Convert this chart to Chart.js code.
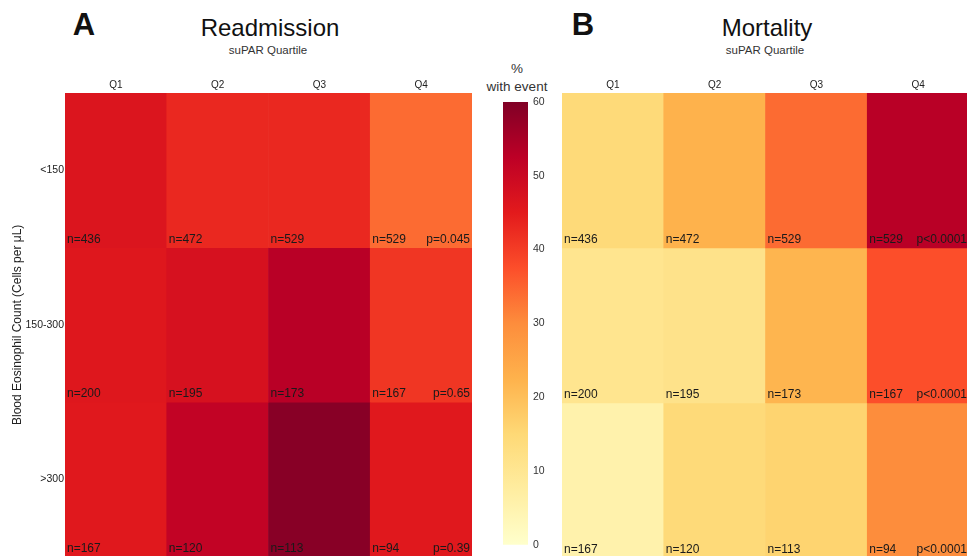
<!DOCTYPE html>
<html>
<head>
<meta charset="utf-8">
<script src="https://cdn.jsdelivr.net/npm/chart.js@4"></script>
<style>
  html, body { margin:0; padding:0; width:967px; height:556px; overflow:hidden; background:#fff; font-family:"Liberation Sans", Arial, sans-serif; }
  canvas { position:absolute; }
  .t { position:absolute; color:#111; white-space:nowrap; transform:translate(-50%,-50%); }
</style>
</head>
<body>
<div class="t" style="left:84px;top:25px;font-size:31px;font-weight:bold;">A</div>
<div class="t" style="left:270px;top:28px;font-size:24px;">Readmission</div>
<div class="t" style="left:268px;top:50px;font-size:11.5px;color:#333;">suPAR Quartile</div>
<div class="t" style="left:583px;top:25px;font-size:31px;font-weight:bold;">B</div>
<div class="t" style="left:767px;top:28px;font-size:24px;">Mortality</div>
<div class="t" style="left:765px;top:50px;font-size:11.5px;color:#333;">suPAR Quartile</div>
<div class="t" style="left:517px;top:68px;font-size:13.5px;color:#333;">%</div>
<div class="t" style="left:517px;top:86px;font-size:13.5px;color:#333;">with event</div>

<canvas id="cA" width="480" height="564" style="left:0;top:0;width:480px;height:564px;"></canvas>
<canvas id="cBar" width="80" height="556" style="left:480px;top:0;width:80px;height:556px;"></canvas>
<canvas id="cB" width="415" height="560" style="left:562px;top:0;width:415px;height:560px;"></canvas>

<script>
// ---- data ----
const quartiles = ["Q1", "Q2", "Q3", "Q4"];
const eosRows = ["<150", "150-300", ">300"];
const readmission = [
  [46.5, 43, 43, 34],
  [46, 47.5, 53, 41],
  [45.5, 51.5, 59, 45.5]
];
const mortality = [
  [14.5, 22.5, 34, 53],
  [10.5, 11.5, 22, 37.5],
  [5.5, 14.5, 16, 30]
];
const counts = [
  [436, 472, 529, 529],
  [200, 195, 173, 167],
  [167, 120, 113, 94]
];
const pReadmission = ["p=0.045", "p=0.65", "p=0.39"];
const pMortality = ["p<0.0001", "p<0.0001", "p<0.0001"];
const colorbarRange = [0, 60];

// ---- colour scale (YlOrRd) ----
const stops = [[255,255,204],[255,237,160],[254,217,118],[254,178,76],[253,141,60],[252,78,42],[227,26,28],[189,0,38],[128,0,38]];
function colorFor(v) {
  let t = (v - colorbarRange[0]) / (colorbarRange[1] - colorbarRange[0]);
  t = Math.max(0, Math.min(1, t)) * (stops.length - 1);
  const i = Math.min(Math.floor(t), stops.length - 2), f = t - i;
  const a = stops[i], b = stops[i + 1];
  const c = a.map((x, k) => Math.round(x + (b[k] - x) * f));
  return `rgb(${c[0]},${c[1]},${c[2]})`;
}

const FONT = "'Liberation Sans', Arial, sans-serif";

function annotPlugin(pvals) {
  return {
    id: 'annot',
    afterDatasetsDraw(chart) {
      const ctx = chart.ctx;
      ctx.save();
      ctx.font = "12px " + FONT;
      ctx.fillStyle = "#1a1a1a";
      ctx.textBaseline = "middle";
      eosRows.forEach((row, r) => {
        const meta = chart.getDatasetMeta(r);
        meta.data.forEach((el, c) => {
          const left = el.x - el.width / 2;
          const right = el.x + el.width / 2;
          const bottom = Math.max(el.y, el.base);
          ctx.textAlign = "left";
          ctx.fillText("n=" + counts[r][c], left + 2, bottom - 8);
          if (c === quartiles.length - 1) {
            ctx.textAlign = "right";
            ctx.fillText(pvals[r], right - 2, bottom - 8);
          }
        });
      });
      ctx.restore();
    }
  };
}

function heatmap(id, values, pvals, showY) {
  const datasets = eosRows.map((row, r) => ({
    label: row,
    data: quartiles.map(() => [r, r + 1]),
    backgroundColor: values[r].map(colorFor),
    borderWidth: 0,
    barPercentage: 1,
    categoryPercentage: 1,
    grouped: false
  }));
  return new Chart(document.getElementById(id), {
    type: 'bar',
    data: { labels: quartiles, datasets },
    options: {
      responsive: false,
      animation: false,
      events: [],
      layout: { padding: { left: 0, right: 8, top: 0, bottom: 2 } },
      plugins: { legend: { display: false }, tooltip: { enabled: false } },
      scales: {
        x: {
          position: 'top',
          grid: { display: false, drawTicks: false },
          border: { display: false },
          ticks: { color: '#222', font: { size: 10, family: FONT }, padding: 2 },
          afterFit(s) { s.height = 93; }
        },
        y: {
          display: showY,
          min: 0, max: eosRows.length, reverse: true,
          grid: { display: false, drawTicks: false },
          border: { display: false },
          afterBuildTicks(s) { s.ticks = eosRows.map((_, i) => ({ value: i + 0.5 })); },
          ticks: {
            color: '#222', font: { size: 10.5, family: FONT }, padding: 1,
            callback: (v) => eosRows[Math.floor(v)]
          },
          title: {
            display: true,
            text: 'Blood Eosinophil Count (Cells per μL)',
            color: '#222', font: { size: 12, family: FONT },
            padding: { top: 10, bottom: 0 }
          },
          afterFit(s) { s.width = showY ? 65 : 0; }
        }
      }
    },
    plugins: [annotPlugin(pvals)]
  });
}

heatmap('cA', readmission, pReadmission, true);
heatmap('cB', mortality, pMortality, false);

// ---- colour bar ----
new Chart(document.getElementById('cBar'), {
  type: 'bar',
  data: {
    labels: [''],
    datasets: [{
      data: [colorbarRange],
      borderWidth: 0,
      barPercentage: 1,
      categoryPercentage: 1,
      backgroundColor(ctx) {
        const chart = ctx.chart;
        if (!chart.chartArea) return '#fff';
        const y = chart.scales.y;
        const g = chart.ctx.createLinearGradient(0, y.getPixelForValue(colorbarRange[0]), 0, y.getPixelForValue(colorbarRange[1]));
        stops.forEach((s, i) => g.addColorStop(i / (stops.length - 1), `rgb(${s[0]},${s[1]},${s[2]})`));
        return g;
      }
    }]
  },
  options: {
    responsive: false,
    animation: false,
    events: [],
    layout: { padding: { left: 23, right: 0, top: 102, bottom: 6 } },
    plugins: { legend: { display: false }, tooltip: { enabled: false } },
    scales: {
      x: { display: false },
      y: {
        position: 'right',
        min: colorbarRange[0], max: colorbarRange[1],
        grid: { display: false, drawTicks: false },
        border: { display: false },
        ticks: { stepSize: 10, color: '#333', font: { size: 10.5, family: FONT }, padding: 5 },
        afterFit(s) { s.width = 32; }
      }
    }
  }
});
</script>
</body>
</html>
